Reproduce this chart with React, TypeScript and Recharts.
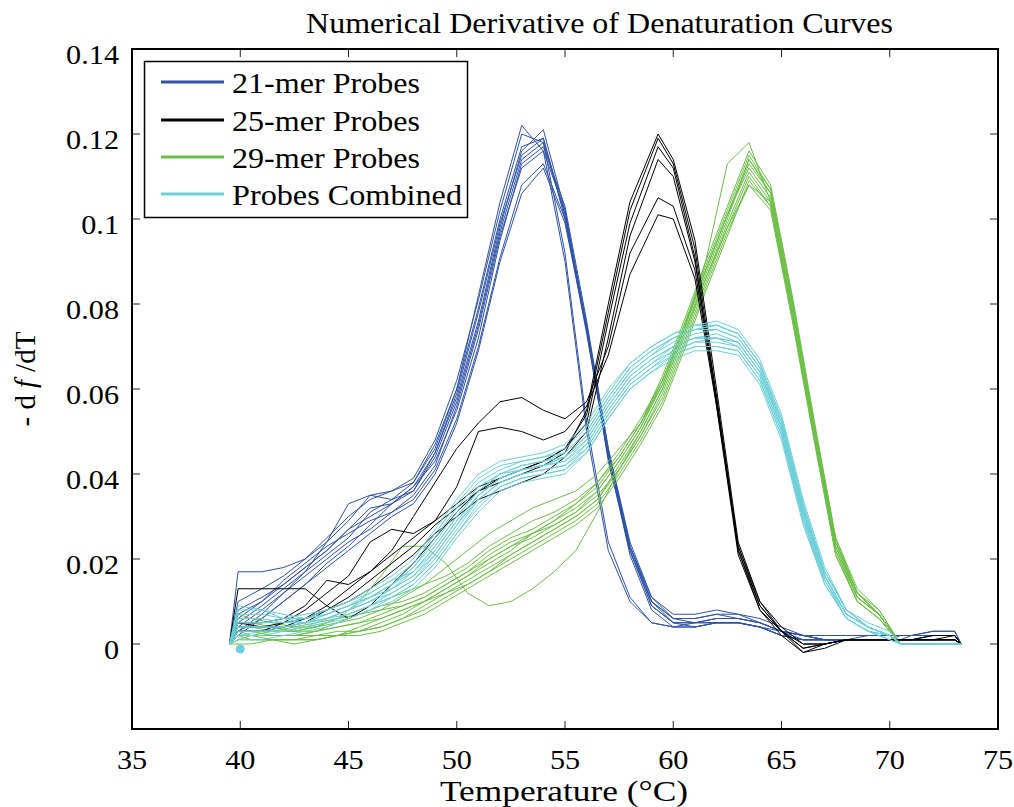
import React from 'react';
import { LineChart, Line, XAxis, YAxis, ReferenceLine, ReferenceArea } from 'recharts';

const FONT = "'Liberation Serif', 'Times New Roman', Times, serif";
const W = 1014;
const H = 807;

// Temperature grid (°C) for 21-mer and combined curves
const temps = [39.5, 39.9, 41, 42, 43, 44, 45, 46, 47, 48, 49, 50, 51, 52, 53, 54, 55, 56, 57, 58, 59, 60, 61, 62, 63, 64, 65, 66, 67, 68, 69, 70, 70.5, 71, 72, 73, 73.3];
// Temperature grid (°C) for 25-mer curves
const blackTemps = [39.5, 39.9, 41, 42, 43, 44, 45, 46, 47, 48, 49, 50, 51, 52, 53, 54, 55, 56, 57, 58, 59.3, 60, 61, 62, 63, 64, 65, 66, 67, 68, 69, 70, 70.5, 71, 72, 73, 73.3];
// Temperature grid (°C) for 29-mer curves
const greenTemps = [39.5, 39.9, 40.5, 41.5, 42.5, 43.5, 44.5, 45.5, 46.5, 47.5, 48.5, 49.5, 50.5, 51.5, 52.5, 53.5, 54.5, 55.5, 56.5, 57.5, 58.5, 59.5, 60.5, 61.5, 62.5, 63.5, 64.5, 65.5, 66.5, 67.5, 68.5, 69.5, 70.5, 71.5, 72.5, 73.3];

// -df/dT values in units of 1e-3
const probes21 = [
  [0, 17, 17, 18, 20, 24, 29, 35, 36, 38, 46, 60, 82, 104, 122, 116, 90, 50, 22, 10, 5, 4, 5, 5, 5, 4, 2, 1, 1, 1, 1, 1, 1, 1, 2, 2, 0],
  [0, 8, 11, 14, 18, 22, 27, 30, 33, 37, 45, 58, 76, 98, 116, 121, 102, 74, 43, 22, 10, 6, 6, 7, 7, 5, 3, 2, 1, 1, 1, 1, 1, 2, 2, 2, 0],
  [0, 5, 9, 13, 17, 21, 25, 31, 34, 38, 47, 60, 79, 100, 117, 119, 100, 73, 44, 23, 11, 7, 7, 8, 7, 6, 4, 2, 2, 2, 2, 2, 2, 2, 3, 3, 0],
  [0, 3, 7, 12, 17, 24, 33, 35, 34, 36, 44, 57, 75, 97, 114, 118, 101, 75, 45, 22, 9, 5, 5, 6, 6, 5, 3, 2, 1, 1, 1, 1, 1, 1, 1, 1, 0],
  [0, 2, 6, 10, 14, 19, 23, 28, 33, 37, 43, 55, 72, 95, 113, 117, 103, 76, 46, 23, 10, 5, 4, 5, 5, 4, 3, 1, 1, 1, 1, 1, 1, 1, 1, 1, 0],
  [0, 6, 10, 15, 19, 23, 26, 29, 31, 35, 42, 56, 74, 96, 112, 116, 102, 74, 44, 21, 8, 4, 4, 5, 5, 4, 2, 1, 1, 1, 2, 2, 2, 2, 2, 2, 0],
  [0, 4, 8, 12, 16, 20, 24, 27, 31, 34, 41, 53, 70, 91, 108, 113, 100, 75, 46, 24, 11, 6, 5, 6, 6, 5, 3, 2, 1, 1, 1, 1, 1, 1, 2, 2, 0],
  [0, 10, 13, 16, 20, 25, 30, 34, 36, 39, 48, 62, 81, 102, 120, 118, 92, 52, 24, 11, 5, 4, 4, 5, 5, 4, 2, 1, 1, 1, 1, 1, 1, 1, 1, 1, 0],
  [0, 3, 6, 10, 14, 18, 22, 26, 30, 33, 40, 52, 69, 90, 106, 112, 99, 74, 45, 23, 10, 6, 6, 7, 6, 5, 3, 2, 1, 1, 1, 1, 1, 1, 1, 1, 0],
  [0, 7, 10, 14, 18, 22, 27, 32, 33, 36, 45, 59, 78, 99, 115, 119, 101, 74, 44, 22, 9, 5, 5, 5, 5, 4, 2, 1, 1, 1, 1, 1, 2, 2, 3, 3, 0],
];

const probes25 = [
  [0, 5, 4, 4, 5, 8, 11, 15, 19, 23, 28, 32, 36, 38, 40, 42, 45, 55, 80, 104, 120, 114, 95, 60, 24, 10, 3, -1, 0, 1, 1, 1, 1, 1, 1, 1, 0],
  [0, 3, 3, 4, 6, 9, 13, 17, 21, 25, 29, 33, 37, 39, 41, 43, 46, 54, 78, 102, 119, 113, 93, 58, 22, 8, 3, -2, -1, 1, 1, 1, 1, 1, 1, 1, 0],
  [0, 13, 13, 13, 13, 9, 6, 9, 14, 19, 25, 31, 36, 39, 41, 43, 46, 52, 76, 99, 117, 112, 91, 56, 21, 8, 2, -2, 0, 1, 1, 1, 1, 1, 1, 2, 0],
  [0, 4, 4, 5, 6, 8, 10, 13, 17, 21, 26, 30, 34, 36, 38, 40, 44, 50, 72, 96, 114, 110, 90, 58, 23, 9, 3, -1, 0, 1, 1, 1, 1, 1, 1, 1, 0],
  [0, 5, 5, 6, 9, 15, 14, 17, 22, 30, 38, 46, 52, 57, 58, 55, 53, 57, 70, 92, 105, 103, 88, 57, 22, 9, 3, 0, 0, 1, 1, 1, 1, 1, 1, 1, 0],
  [0, 3, 3, 5, 8, 12, 16, 24, 27, 26, 29, 37, 50, 51, 50, 48, 50, 56, 68, 87, 101, 100, 86, 56, 23, 10, 4, 0, 0, 1, 1, 1, 1, 1, 2, 2, 0],
];

const probes29 = [
  [0, 3, 3, 2, 2, 3, 4, 5, 6, 8, 10, 13, 16, 19, 22, 26, 29, 33, 38, 44, 52, 62, 74, 90, 113, 118, 104, 78, 49, 24, 12, 7, 0, 0, 0, 0],
  [0, 7, 6, 5, 4, 4, 6, 10, 16, 23, 23, 19, 12, 9, 10, 13, 17, 22, 31, 41, 50, 60, 73, 86, 98, 108, 104, 78, 49, 23, 11, 7, 0, 0, 0, 0],
  [0, 2, 2, 3, 3, 4, 5, 6, 8, 11, 14, 18, 22, 26, 29, 32, 34, 36, 40, 46, 52, 61, 74, 88, 101, 112, 105, 79, 51, 24, 11, 7, 0, 0, 0, 0],
  [0, 2, 1, 1, 1, 2, 2, 3, 4, 6, 9, 12, 15, 18, 21, 24, 27, 30, 34, 42, 50, 60, 73, 87, 100, 114, 106, 80, 52, 25, 12, 8, 0, 0, 0, 0],
  [0, 0, 0, 1, 1, 1, 2, 3, 5, 7, 10, 13, 16, 20, 23, 26, 28, 31, 36, 43, 51, 62, 75, 89, 102, 115, 107, 81, 51, 23, 11, 7, 0, 0, 0, 0],
  [0, 4, 4, 3, 3, 3, 4, 5, 7, 9, 11, 14, 17, 20, 23, 25, 28, 31, 35, 41, 49, 58, 71, 85, 98, 110, 103, 77, 49, 22, 10, 6, 0, 0, 0, 0],
  [0, 1, 1, 1, 0, 1, 2, 4, 6, 8, 10, 12, 14, 17, 20, 23, 26, 29, 33, 40, 48, 57, 70, 84, 97, 108, 102, 76, 48, 21, 10, 6, 0, 0, 0, 0],
  [0, 3, 2, 2, 2, 3, 5, 7, 9, 10, 12, 15, 18, 22, 25, 27, 30, 33, 37, 44, 52, 63, 76, 90, 103, 116, 108, 82, 53, 25, 13, 8, 0, 0, 0, 0],
  [0, 1, 2, 2, 2, 2, 3, 3, 4, 6, 8, 11, 14, 17, 21, 24, 27, 30, 34, 41, 49, 59, 72, 86, 99, 111, 104, 78, 50, 22, 11, 7, 0, 0, 0, 0],
  [0, 5, 5, 4, 3, 4, 6, 8, 10, 12, 14, 16, 19, 23, 26, 29, 31, 34, 38, 45, 53, 62, 75, 88, 101, 113, 106, 80, 51, 24, 12, 7, 0, 0, 0, 0],
  [0, 2, 2, 1, 1, 1, 2, 2, 3, 5, 7, 10, 13, 16, 19, 22, 25, 28, 32, 39, 47, 56, 69, 83, 96, 109, 103, 77, 49, 21, 10, 6, 0, 0, 0, 0],
  [0, 3, 3, 3, 4, 5, 6, 7, 8, 9, 11, 14, 17, 21, 24, 26, 29, 32, 36, 43, 51, 61, 74, 88, 101, 114, 107, 81, 52, 24, 12, 7, 0, 0, 0, 0],
];

const combined = [
  [0, 4, 4, 4, 5, 7, 9, 11, 14, 18, 25, 32, 38, 41, 43, 44, 45, 50, 58, 65, 69, 72, 74, 75, 73, 66, 53, 33, 17, 8, 4, 2, 0, 0, 0, 0, 0],
  [0, 2, 2, 3, 4, 5, 6, 8, 10, 13, 18, 25, 31, 36, 38, 39, 40, 45, 53, 60, 64, 68, 70, 70, 69, 62, 49, 29, 15, 6, 3, 2, 0, 0, 0, 0, 0],
  [0, 8, 8, 7, 6, 7, 9, 12, 15, 19, 26, 33, 39, 42, 43, 44, 46, 51, 59, 66, 70, 73, 75, 76, 74, 67, 54, 34, 18, 8, 5, 3, 0, 0, 0, 0, 0],
  [0, 5, 5, 5, 6, 8, 10, 12, 15, 17, 22, 29, 35, 39, 41, 42, 43, 47, 55, 62, 66, 70, 72, 72, 71, 64, 51, 31, 16, 7, 4, 2, 0, 0, 0, 0, 0],
  [0, 3, 3, 3, 4, 5, 7, 9, 12, 15, 20, 27, 34, 38, 40, 41, 42, 46, 54, 61, 65, 69, 71, 71, 70, 63, 50, 30, 15, 6, 3, 1, 0, 0, 0, 0, 0],
  [0, 6, 6, 5, 5, 6, 8, 11, 14, 18, 24, 31, 37, 40, 42, 43, 44, 49, 57, 64, 68, 71, 73, 74, 72, 65, 52, 32, 16, 7, 4, 2, 0, 0, 0, 0, 0],
  [0, 1, 1, 2, 3, 4, 6, 8, 11, 14, 19, 26, 33, 37, 39, 40, 41, 46, 54, 61, 65, 68, 70, 70, 69, 62, 49, 29, 14, 6, 3, 2, 0, 0, 0, 0, 0],
  [0, 9, 8, 6, 5, 6, 8, 10, 13, 16, 21, 28, 35, 39, 41, 42, 44, 49, 57, 64, 68, 72, 74, 74, 72, 65, 51, 31, 16, 7, 4, 2, 0, 0, 0, 0, 0],
  [0, 4, 4, 4, 5, 7, 9, 11, 13, 16, 22, 29, 35, 39, 41, 42, 43, 48, 56, 63, 67, 70, 72, 73, 71, 64, 51, 31, 16, 7, 4, 2, 0, 0, 0, 0, 0],
  [0, 2, 3, 3, 4, 6, 8, 10, 12, 15, 21, 28, 34, 38, 40, 41, 42, 47, 55, 62, 66, 69, 71, 72, 70, 63, 50, 30, 15, 7, 4, 2, 0, 0, 0, 0, 0],
  [0, 5, 5, 6, 7, 8, 10, 13, 16, 20, 27, 34, 40, 43, 44, 45, 47, 52, 60, 66, 70, 73, 75, 75, 73, 66, 53, 33, 17, 8, 4, 2, 0, 0, 0, 0, 0],
  [0, 3, 3, 4, 5, 6, 7, 9, 11, 14, 19, 26, 32, 37, 39, 40, 41, 45, 53, 60, 64, 67, 69, 69, 68, 61, 48, 28, 14, 6, 3, 1, 0, 0, 0, 0, 0],
  [0, 7, 7, 6, 6, 7, 9, 11, 14, 17, 23, 30, 36, 40, 42, 43, 45, 50, 58, 65, 69, 72, 74, 75, 73, 66, 52, 32, 17, 8, 4, 2, 0, 0, 0, 0, 0],
  [0, 4, 4, 4, 5, 6, 8, 10, 13, 17, 23, 30, 36, 40, 41, 42, 44, 48, 56, 63, 67, 70, 72, 72, 71, 64, 51, 31, 16, 7, 4, 2, 0, 0, 0, 0, 0],
];

// Stray marker near the start of the combined curves
const combinedMarker = [{ t: 40, v: -0.0012 }];

const xTicks = [35, 40, 45, 50, 55, 60, 65, 70, 75];
const yTicks = [0, 0.02, 0.04, 0.06, 0.08, 0.1, 0.12, 0.14];
const xInnerTicks = [40, 45, 50, 55, 60, 65, 70];
const yInnerTicks = [0, 0.02, 0.04, 0.06, 0.08, 0.1, 0.12];

const legendItems = [
  { label: '21-mer Probes', color: '#2f52a6', width: 188 },
  { label: '25-mer Probes', color: '#000000', width: 188 },
  { label: '29-mer Probes', color: '#6cbf47', width: 188 },
  { label: 'Probes Combined', color: '#6ccfd9', width: 230 },
];

const C21 = '#2f52a6';
const C25 = '#000000';
const C29 = '#6cbf47';
const CCOMB = '#6ccfd9';

const toRows = (xs: number[], vals: number[]) => xs.map((t, i) => ({ t, v: vals[i] / 1000 }));

const fmtY = (v: number) => (v === 0 ? '0' : String(Number(v.toFixed(2))));

const textStyle = { fontFamily: FONT };

const YTick = (props: any) => {
  const { y, payload } = props;
  return (
    <g transform={`translate(119,${y + 15}) scale(1.12,1)`}>
      <text x={0} y={0} textAnchor="end" fontSize={27} style={textStyle} fill="#000">
        {fmtY(payload.value)}
      </text>
    </g>
  );
};

const XTick = (props: any) => {
  const { x, payload } = props;
  return (
    <g transform={`translate(${x},769) scale(1.12,1)`}>
      <text x={0} y={0} textAnchor="middle" fontSize={27} style={textStyle} fill="#000">
        {payload.value}
      </text>
    </g>
  );
};

export default function App() {
  const lineProps = {
    type: 'linear' as const,
    dataKey: 'v',
    dot: false,
    isAnimationActive: false,
    strokeWidth: 1,
  };
  const tx = 0.37; // tick length in °C (~8 px)
  const ty = 0.0019; // tick length in value (~8 px)

  return (
    <div style={{ position: 'absolute', left: 0, top: 0, width: W, height: H, background: '#fff' }}>
      <LineChart width={W} height={H} margin={{ top: 49, right: 16, bottom: 30, left: 0 }}>
        <XAxis
          dataKey="t"
          type="number"
          domain={[35, 75]}
          ticks={xTicks}
          interval={0}
          allowDataOverflow
          height={48}
          axisLine={false}
          tickLine={false}
          tick={XTick}
        />
        <YAxis
          type="number"
          domain={[-0.02, 0.14]}
          ticks={yTicks}
          interval={0}
          allowDataOverflow
          width={132}
          axisLine={false}
          tickLine={false}
          tick={YTick}
        />
        {probes21.map((vals, i) => (
          <Line key={`b${i}`} {...lineProps} data={toRows(temps, vals)} stroke={C21} />
        ))}
        {probes29.map((vals, i) => (
          <Line key={`g${i}`} {...lineProps} data={toRows(greenTemps, vals)} stroke={C29} />
        ))}
        {probes25.map((vals, i) => (
          <Line key={`k${i}`} {...lineProps} data={toRows(blackTemps, vals)} stroke={C25} />
        ))}
        {combined.map((vals, i) => (
          <Line key={`c${i}`} {...lineProps} data={toRows(temps, vals)} stroke={CCOMB} />
        ))}
        <Line
          key="marker"
          type="linear"
          dataKey="v"
          data={combinedMarker}
          stroke={CCOMB}
          isAnimationActive={false}
          dot={{ r: 4, fill: CCOMB, stroke: CCOMB }}
        />
        {yInnerTicks.map((v) => (
          <ReferenceLine key={`yl${v}`} segment={[{ x: 35, y: v }, { x: 35 + tx, y: v }]} stroke="#222" strokeWidth={1} />
        ))}
        {yInnerTicks.map((v) => (
          <ReferenceLine key={`yr${v}`} segment={[{ x: 75 - tx, y: v }, { x: 75, y: v }]} stroke="#222" strokeWidth={1} />
        ))}
        {xInnerTicks.map((t) => (
          <ReferenceLine key={`xb${t}`} segment={[{ x: t, y: -0.02 }, { x: t, y: -0.02 + ty }]} stroke="#222" strokeWidth={1} />
        ))}
        {xInnerTicks.map((t) => (
          <ReferenceLine key={`xt${t}`} segment={[{ x: t, y: 0.14 - ty }, { x: t, y: 0.14 }]} stroke="#222" strokeWidth={1} />
        ))}
        <ReferenceArea x1={35} x2={75} y1={-0.02} y2={0.14} fill="none" fillOpacity={0} stroke="#000" strokeWidth={2} ifOverflow="visible" />
      </LineChart>

      <svg
        width={W}
        height={H}
        style={{ position: 'absolute', left: 0, top: 0, pointerEvents: 'none' }}
      >
        <text x={306} y={33} fontSize={29} style={textStyle} fill="#000" textLength={587} lengthAdjust="spacingAndGlyphs">
          Numerical Derivative of Denaturation Curves
        </text>
        <text x={440} y={801} fontSize={29} style={textStyle} fill="#000" textLength={248} lengthAdjust="spacingAndGlyphs">
          Temperature (°C)
        </text>
        <text
          x={0}
          y={0}
          transform="translate(35,379) rotate(-90)"
          textAnchor="middle"
          fontSize={29}
          style={textStyle}
          fill="#000"
        >
          - d<tspan fontStyle="italic" dx={7}>f</tspan><tspan dx={8}>/dT</tspan>
        </text>
        <rect x={144.5} y={61.5} width={323} height={156} fill="#fff" stroke="#000" strokeWidth={1.5} />
        {legendItems.map((it, i) => {
          const cy = [82, 120, 157, 194][i];
          return (
            <g key={it.label}>
              <line x1={161} x2={224} y1={cy} y2={cy} stroke={it.color} strokeWidth={3} />
              <text
                x={232}
                y={cy + 11}
                fontSize={29}
                style={textStyle}
                fill="#000"
                textLength={it.width}
                lengthAdjust="spacingAndGlyphs"
              >
                {it.label}
              </text>
            </g>
          );
        })}
      </svg>
    </div>
  );
}
